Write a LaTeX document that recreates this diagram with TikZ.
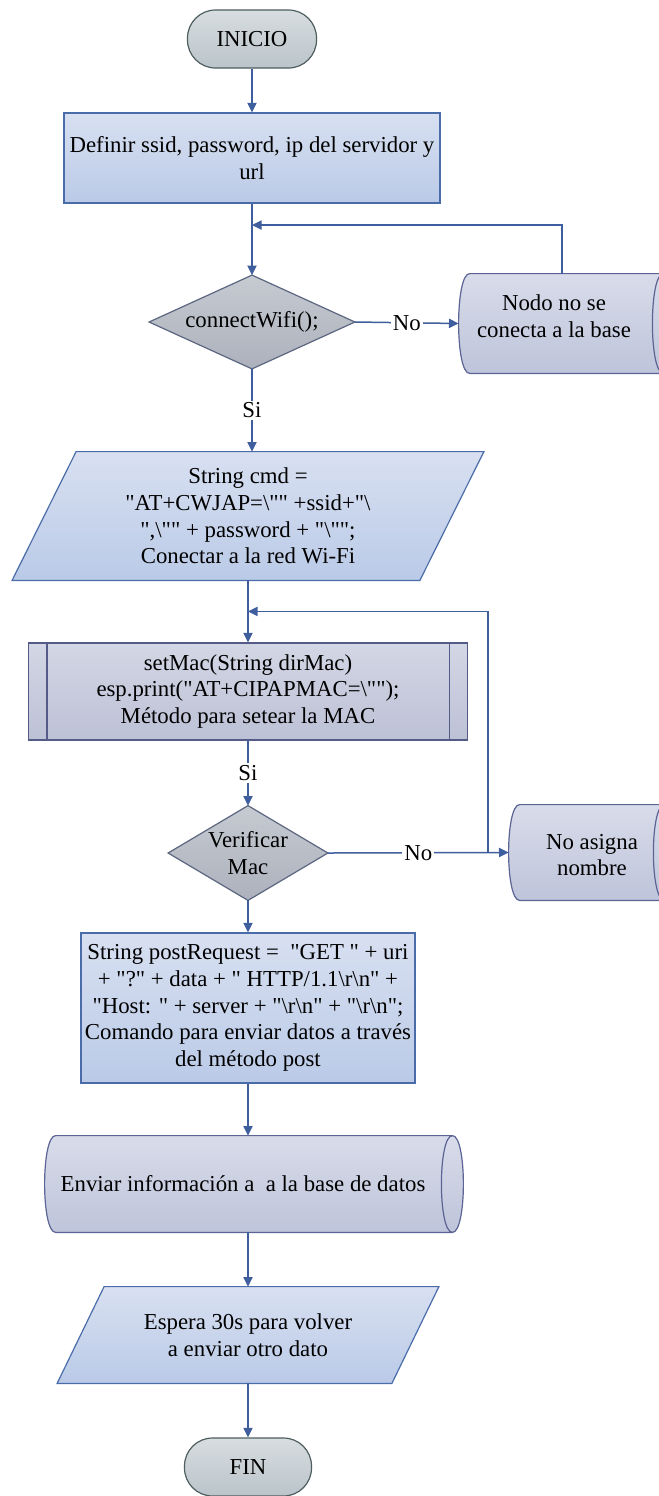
\documentclass[tikz,border=0pt]{standalone}
\usepackage{fontspec}
\newfontfamily\diag{Liberation Serif}[Ligatures=TeXOff]
\usetikzlibrary{shapes.geometric,arrows.meta,calc,backgrounds}
\newcommand{\bsl}{\textbackslash}
\definecolor{lc}{HTML}{3F5E9E}
\definecolor{boxT}{HTML}{D8E0F1}
\definecolor{boxB}{HTML}{BACAE7}
\definecolor{boxD}{HTML}{4A6DAA}
\definecolor{diaT}{HTML}{C6CAD1}
\definecolor{diaB}{HTML}{ACB1BC}
\definecolor{diaD}{HTML}{5C6680}
\definecolor{cylT}{HTML}{D8DCEA}
\definecolor{cylB}{HTML}{BEC4DA}
\definecolor{cylD}{HTML}{5B6494}
\definecolor{subT}{HTML}{D3D6E4}
\definecolor{subB}{HTML}{BDC1D6}
\definecolor{subD}{HTML}{555B88}
\definecolor{termT}{HTML}{D7DDE0}
\definecolor{termB}{HTML}{BAC4CA}
\definecolor{termD}{HTML}{4E5E5E}
\begin{document}
\begin{tikzpicture}[x=0.5pt,y=-0.5pt,
  txt/.style={font=\diag\fontsize{11.4}{13.4}\selectfont, align=center, inner sep=0pt, text=black},
  term/.style={txt, draw=termD, line width=0.6pt, rounded corners=14pt, top color=termT, bottom color=termB},
  proc/.style={txt, draw=boxD, line width=0.6pt, top color=boxT, bottom color=boxB},
  subr/.style={txt, draw=subD, line width=0.6pt, top color=subT, bottom color=subB},
  shapeonly/.style={txt},
  diafill/.style={draw=diaD, line width=0.6pt, top color=diaT, bottom color=diaB},
  parfill/.style={draw=boxD, line width=0.6pt, top color=boxT, bottom color=boxB},
  cylfill/.style={draw=cylD, line width=0.6pt, top color=cylT, bottom color=cylB},
  conn/.style={draw=lc, line width=0.75pt},
  arr/.style={conn, -{Triangle[length=4.8pt,width=4.6pt]}},
  lab/.style={txt, fill=white, inner sep=1pt}
]
\useasboundingbox (0,0) rectangle (659,1496);

% nodes
\node[term, minimum width=64.5pt, minimum height=29pt] (start) at (252,39) {INICIO};
\node[proc, minimum width=188pt, minimum height=45pt] (defn) at (252,158) {Definir ssid, password, ip del servidor y\\url};
\node[shapeonly, minimum width=102.5pt, minimum height=46.5pt] (d1) at (252,322) {connectWifi();};
\node[shapeonly, minimum width=96.5pt, minimum height=49.5pt] (nodo) at (555.5,323.5) {};
\node[txt] (nodot) at (554,316) {Nodo no se\\conecta a la base};
\node[shapeonly, minimum width=235.5pt, minimum height=64pt] (par1) at (248,516) {String cmd =\\"AT+CWJAP=\bsl"" +ssid+"\bsl\\",\bsl"" + password + "\bsl"";\\Conectar a la red Wi-Fi};
\node[subr, minimum width=219.5pt, minimum height=48.5pt] (sub) at (248,691.5) {setMac(String dirMac)\\esp.print("AT+CIPAPMAC=\bsl"");\\Método para setear la MAC};
\node[shapeonly, minimum width=79.5pt, minimum height=47pt] (d2) at (248,853) {Verificar\\Mac};
\node[shapeonly, minimum width=72pt, minimum height=47.5pt] (cyl2) at (581,852.5) {};
\node[txt] (cyl2t) at (592,855) {No asigna\\nombre};
\node[proc, minimum width=167pt, minimum height=75pt] (box3) at (248,1008) {String postRequest =\ \ "GET " + uri\\+ "?" + data + " HTTP/1.1\bsl r\bsl n" +\\"Host: " + server + "\bsl r\bsl n" + "\bsl r\bsl n";\\Comando para enviar datos a través\\del método post};
\node[shapeonly, minimum width=198pt, minimum height=48pt] (env) at (243,1184) {Enviar información a\ \ a la base de datos};
\node[shapeonly, minimum width=190.5pt, minimum height=48pt] (esp) at (248,1335) {Espera 30s para volver\\a enviar otro dato};
\node[term, minimum width=63.5pt, minimum height=29pt] (fin) at (248,1467) {FIN};

% subroutine inner lines
\draw[draw=subD, line width=0.6pt] ([xshift=9.5pt]sub.north west) -- ([xshift=9.5pt]sub.south west);
\draw[draw=subD, line width=0.6pt] ([xshift=-9.5pt]sub.north east) -- ([xshift=-9.5pt]sub.south east);

\begin{scope}[on background layer]
  % decisions
  \path[diafill] (d1.north) -- (d1.east) -- (d1.south) -- (d1.west) -- cycle;
  \path[diafill] (d2.north) -- (d2.east) -- (d2.south) -- (d2.west) -- cycle;
  % parallelograms
  \path[parfill] ([xshift=32pt]par1.north west) -- (par1.north east) -- ([xshift=-32pt]par1.south east) -- (par1.south west) -- cycle;
  \path[parfill] ([xshift=23.5pt]esp.north west) -- (esp.north east) -- ([xshift=-23.5pt]esp.south east) -- (esp.south west) -- cycle;
  % cylinders
  \foreach \c in {nodo,cyl2,env}{
    \path[cylfill] ([xshift=5.5pt]\c.north west) -- ([xshift=5.5pt]\c.north east)
      .. controls +(7.33pt,0) and +(7.33pt,0) .. ([xshift=5.5pt]\c.south east)
      -- ([xshift=5.5pt]\c.south west)
      .. controls +(-7.33pt,0) and +(-7.33pt,0) .. ([xshift=5.5pt]\c.north west) -- cycle;
    \draw[draw=cylD, line width=0.6pt] ([xshift=5.5pt]\c.north east)
      .. controls +(-7.33pt,0) and +(-7.33pt,0) .. ([xshift=5.5pt]\c.south east);
  }
\end{scope}

% connectors
\draw[arr] (start.south) -- (defn.north);
\draw[arr] (defn.south) -- (d1.north);
\draw[arr] ([xshift=3.25pt]nodo.north) |- ($(defn.south)!0.3!(d1.north)$);
\draw[arr] (d1.east) -- node[lab]{No} (nodo.west);
\draw[arr] (d1.south) -- node[lab]{Si} (d1.south |- par1.north);
\draw[arr] (par1.south) -- (sub.north);
\draw[arr] (sub.south) -- node[lab]{Si} (d2.north);
\draw[arr] (d2.east) -- node[lab]{No} (cyl2.west);
\coordinate (j2) at ($(d2.east)!0.885!(cyl2.west)$);
\draw[arr] (j2) |- ($(par1.south)!0.5!(sub.north)$);
\draw[arr] (d2.south) -- (box3.north);
\draw[arr] (box3.south) -- (box3.south |- env.north);
\draw[arr] (esp.north |- env.south) -- (esp.north);
\draw[arr] (esp.south) -- (fin.north);
\end{tikzpicture}
\end{document}
